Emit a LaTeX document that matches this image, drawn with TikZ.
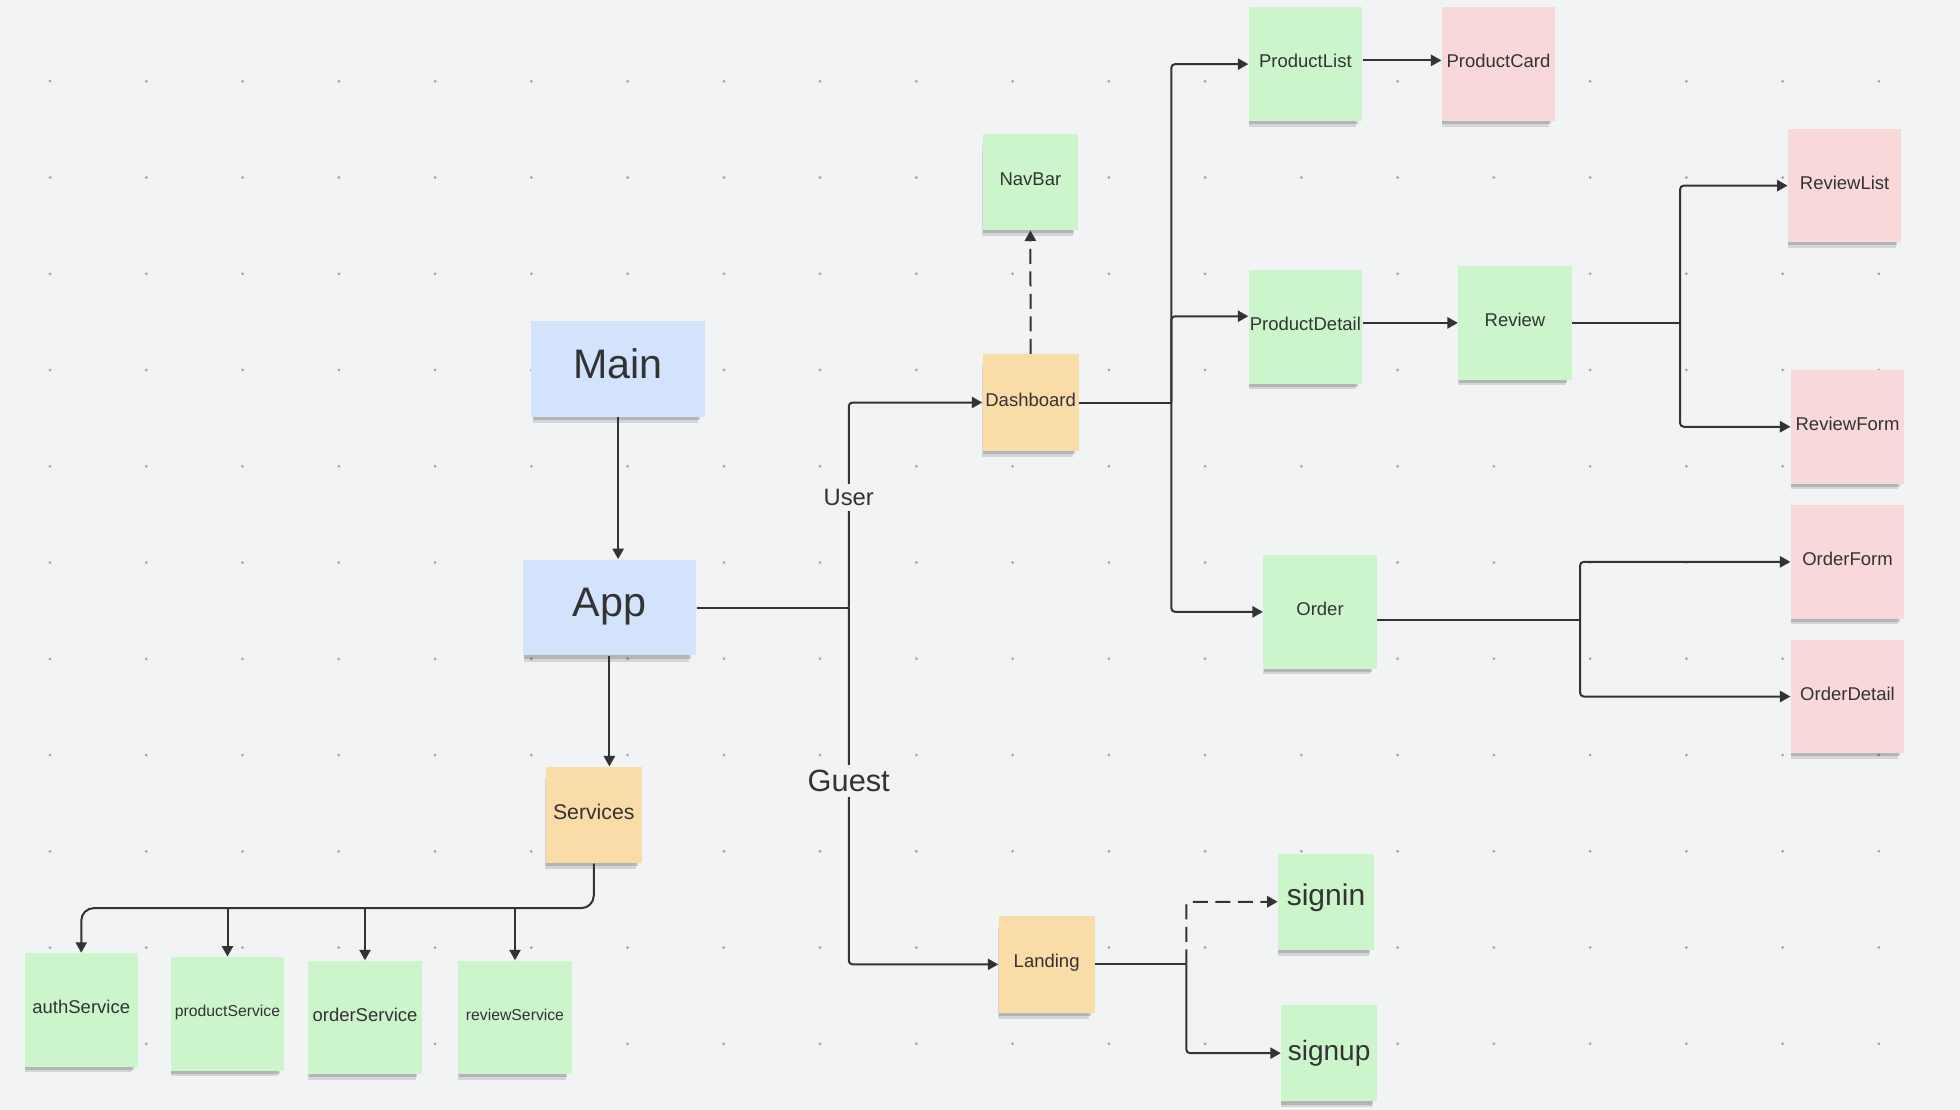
\documentclass[tikz,border=0pt]{standalone}
\usepackage{fontspec}
\setmainfont{Liberation Sans}
\usetikzlibrary{arrows.meta,shadows}
\definecolor{bg}{HTML}{F2F3F5}
\definecolor{dotgray}{HTML}{A0A3A8}
\definecolor{ink}{HTML}{333333}
\definecolor{noteblue}{HTML}{D3E3FC}
\definecolor{notegreen}{HTML}{CCF5CC}
\definecolor{notepink}{HTML}{F8D8D8}
\definecolor{noteorange}{HTML}{FADCA8}
\tikzset{
  note/.style={inner sep=0pt, text=ink, text depth=2.5pt, font=\fontsize{7.4}{9}\selectfont,
    drop shadow={shadow xshift=-1.2pt, shadow yshift=-3.6pt, shadow scale=0.95, opacity=0.12, fill=black},
    drop shadow={shadow xshift=-0.8pt, shadow yshift=-2.2pt, shadow scale=0.96, opacity=0.2, fill=black!80}},
  smallnote/.style={note, minimum width=38.3pt, minimum height=38.5pt},
  bignote/.style={note, minimum width=45.3pt, minimum height=45.4pt},
  widenote/.style={note, minimum width=69.5pt, minimum height=38.3pt, text depth=4pt, font=\fontsize{16.5}{18}\selectfont},
  link/.style={draw=ink, line width=0.8pt, rounded corners=1.5pt},
  arrow/.style={link, -{Triangle[length=4.2pt,width=4.5pt]}},
  dashlink/.style={dash pattern=on 6pt off 3pt},
  tag/.style={fill=bg, inner sep=2pt, text=ink}
}
\begin{document}
\begin{tikzpicture}[x=0.5pt, y=-0.5pt]
    \useasboundingbox (0,0) rectangle (1568,888);
    \fill[bg] (0,0) rectangle (1568,888);
    \foreach \i in {0,...,19}
        \foreach \j in {0,...,10}
            \fill[dotgray] (40+77*\i, 65+77*\j) circle (0.6pt);

    \node[widenote, fill=noteblue] (main) at (494.5,295) {Main};
    \node[widenote, fill=noteblue] (app) at (487.5,486) {App};
    \node[smallnote, fill=noteorange, font=\fontsize{8.5}{10}\selectfont] (services) at (475,652) {Services};
    \node[bignote, fill=notegreen] (authsvc) at (65,808) {authService};
    \node[bignote, fill=notegreen, font=\fontsize{6.3}{8}\selectfont] (productsvc) at (182,811) {productService};
    \node[bignote, fill=notegreen] (ordersvc) at (292,814) {orderService};
    \node[bignote, fill=notegreen, font=\fontsize{6.3}{8}\selectfont] (reviewsvc) at (412,814) {reviewService};
    \node[smallnote, fill=noteorange] (dashboard) at (824.5,322) {Dashboard};
    \node[smallnote, fill=notegreen] (navbar) at (824.3,145.5) {NavBar};
    \node[bignote, fill=notegreen] (productlist) at (1044.3,51.3) {ProductList};
    \node[bignote, fill=notepink] (productcard) at (1198.8,51.3) {ProductCard};
    \node[bignote, fill=notegreen] (productdetail) at (1044.3,261.4) {ProductDetail};
    \node[bignote, fill=notegreen] (review) at (1212,258.3) {Review};
    \node[bignote, fill=notepink] (reviewlist) at (1475.7,148.5) {ReviewList};
    \node[bignote, fill=notepink] (reviewform) at (1478,341.4) {ReviewForm};
    \node[bignote, fill=notegreen] (order) at (1056,489.5) {Order};
    \node[bignote, fill=notepink] (orderform) at (1478,449.5) {OrderForm};
    \node[bignote, fill=notepink] (orderdetail) at (1478,557.2) {OrderDetail};
    \node[smallnote, fill=noteorange] (landing) at (837.3,771.5) {Landing};
    \node[smallnote, fill=notegreen, text depth=5.5pt, font=\fontsize{12}{14}\selectfont] (signin) at (1060.8,721.4) {signin};
    \node[smallnote, fill=notegreen, font=\fontsize{11.2}{13}\selectfont] (signup) at (1063.3,842.5) {signup};

    \draw[arrow] (main.south) -- (main.south |- app.north);
    \draw[arrow] (app.south) -- (app.south |- services.north);
    \coordinate (svcbus) at (300,726.5);
    \draw[arrow, rounded corners=5pt] (services.south) |- (svcbus) -| (authsvc.north);
    \draw[arrow] (productsvc.north |- svcbus) -- (productsvc.north);
    \draw[arrow] (ordersvc.north |- svcbus) -- (ordersvc.north);
    \draw[arrow] (reviewsvc.north |- svcbus) -- (reviewsvc.north);

    \coordinate (appsplit) at (679,486);
    \draw[link] (app.east) -- (appsplit);
    \draw[arrow] (appsplit) |- (dashboard.west);
    \draw[arrow] (appsplit) |- (landing.west);
    \node[tag, font=\fontsize{9.5}{11}\selectfont] (user) at (679,398) {User};
    \node[tag, font=\fontsize{12.3}{14}\selectfont] (guest) at (679,625) {Guest};

    \draw[arrow, dashlink] (dashboard.north) -- (navbar.south);
    \coordinate (dashsplit) at (937,322);
    \draw[link] (dashboard.east) -- (dashsplit);
    \draw[arrow] (dashsplit) |- (productlist.west);
    \draw[arrow] (dashsplit) |- ([yshift=4.2pt]productdetail.west);
    \draw[arrow] (dashsplit) |- (order.west);
    \draw[arrow] ([yshift=1.5pt]productlist.east) -- ([yshift=1.5pt]productcard.west);
    \draw[arrow] (productdetail.east |- review.west) -- (review.west);

    \coordinate (reviewsplit) at (1344,258.3);
    \draw[link] (review.east) -- (reviewsplit);
    \draw[arrow] (reviewsplit) |- (reviewlist.west);
    \draw[arrow] (reviewsplit) |- (reviewform.west);

    \coordinate (ordersplit) at (1264,496);
    \draw[link] (order.east |- ordersplit) -- (ordersplit);
    \draw[arrow] (ordersplit) |- (orderform.west);
    \draw[arrow] (ordersplit) |- (orderdetail.west);

    \coordinate (landsplit) at (949,771.5);
    \draw[link] (landing.east) -- (landsplit);
    \draw[arrow, dashlink] (landsplit) |- (signin.west);
    \draw[arrow] (landsplit) |- (signup.west);
\end{tikzpicture}
\end{document}
